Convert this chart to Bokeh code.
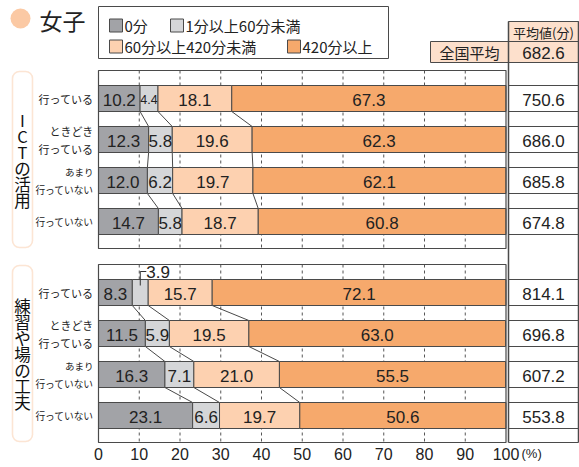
from bokeh.plotting import figure
from bokeh.models import Range1d, BoxAnnotation
from bokeh.core.properties import value
from bokeh.embed import file_html
from bokeh.resources import INLINE

# ---------------- data ----------------
title = "女子"
rows = ["行っている", "ときどき\n行っている", "あまり\n行っていない", "行っていない"]
groups = ["ICTの活用", "練習や場の工夫"]
series = ["0分", "1分以上60分未満", "60分以上420分未満", "420分以上"]

ict_0 = [10.2, 12.3, 12.0, 14.7]
ict_1_60 = [4.4, 5.8, 6.2, 5.8]
ict_60_420 = [18.1, 19.6, 19.7, 18.7]
ict_420 = [67.3, 62.3, 62.1, 60.8]
ict_avg = [750.6, 686.0, 685.8, 674.8]

prac_0 = [8.3, 11.5, 16.3, 23.1]
prac_1_60 = [3.9, 5.9, 7.1, 6.6]
prac_60_420 = [15.7, 19.5, 21.0, 19.7]
prac_420 = [72.1, 63.0, 55.5, 50.6]
prac_avg = [814.1, 696.8, 607.2, 553.8]

avg_header = "平均値(分)"
national_label = "全国平均"
national_avg = 682.6
ticks = [0, 10, 20, 30, 40, 50, 60, 70, 80, 90, 100]
unit_label = "(%)"

colors = ["#a2a3a7", "#d5d6d8", "#fdd1b0", "#f6a96c"]
EDGE = "#4a4a4a"
ORANGE_BORDER = "#f4a870"
PEACH = "#fde0cc"

JP = value("Noto Sans CJK JP")
NUM = value("Liberation Sans")

# ---------------- geometry ----------------
W, H = 579, 467
X0, S = 98.0, 4.075  # pixel of 0 %, pixels per %


def X(px):
    return (px - X0) / S


p = figure(width=W, height=H, output_backend="svg", toolbar_location=None,
           x_range=Range1d(X(0), X(W)), y_range=Range1d(H, 0),
           min_border=0, x_axis_type=None, y_axis_type=None)
p.outline_line_color = None
p.xgrid.visible = False
p.ygrid.visible = False
p.background_fill_color = "white"

panel_tops = [70, 264]
PANEL_H = 178
PITCH = 41
FIRST = 28
BAR_H = 26

data = [
    ([ict_0, ict_1_60, ict_60_420, ict_420], ict_avg),
    ([prac_0, prac_1_60, prac_60_420, prac_420], prac_avg),
]

# ---------------- title ----------------
p.scatter(x=[X(20)], y=[18], size=20, marker="circle", fill_color="#fbc9a4", line_color=None)
p.text(x=[X(39)], y=[19], text=[title], text_font=JP, text_font_size=value("23px"),
       text_align="left", text_baseline="middle", text_color="#222222")

# ---------------- legend ----------------
p.quad(left=[X(98)], right=[X(388)], top=[6], bottom=[58], fill_color="white",
       line_color=EDGE, line_width=1)
leg_pos = [(109, 25), (170, 25), (109, 46), (287, 46)]
for (lx, ly), name, c in zip(leg_pos, series, colors):
    p.quad(left=[X(lx)], right=[X(lx + 13)], top=[ly - 6.5], bottom=[ly + 6.5],
           fill_color=c, line_color=EDGE, line_width=1)
    p.text(x=[X(lx + 15)], y=[ly], text=[name], text_font=JP, text_font_size=value("15px"),
           text_align="left", text_baseline="middle", text_color="#222222")

# ---------------- average table header ----------------
p.quad(left=[X(508)], right=[X(578)], top=[21], bottom=[41], fill_color=PEACH,
       line_color=EDGE, line_width=1)
p.text(x=[X(543)], y=[31.5], text=[avg_header], text_font=JP, text_font_size=value("13px"),
       text_align="center", text_baseline="middle", text_color="#222222")
p.quad(left=[X(430), X(508)], right=[X(508), X(578)], top=[41, 41], bottom=[62, 62],
       fill_color=PEACH, line_color=EDGE, line_width=1)
p.text(x=[X(469)], y=[52], text=[national_label], text_font=JP, text_font_size=value("15px"),
       text_align="center", text_baseline="middle", text_color="#222222")
p.text(x=[X(543)], y=[52], text=[f"{national_avg:.1f}"], text_font=NUM,
       text_font_size=value("17px"), text_align="center", text_baseline="middle",
       text_color="#222222")
p.segment(x0=[X(508), X(578)], y0=[21, 21], x1=[X(508), X(578)], y1=[442, 442],
          line_color=EDGE, line_width=1.5)
p.segment(x0=[X(508)], y0=[442], x1=[X(578)], y1=[442], line_color=EDGE, line_width=1)

# ---------------- panels ----------------
for g, (top, (segs, avgs)) in enumerate(zip(panel_tops, data)):
    bottom = top + PANEL_H
    centers = [top + FIRST + PITCH * i for i in range(len(rows))]

    # group box with vertical title
    p.add_layout(BoxAnnotation(left=X(12), right=X(32), top=top + 1, bottom=bottom - 1,
                               fill_color="white", fill_alpha=1, line_color=ORANGE_BORDER,
                               line_width=1.6, border_radius=7, level="underlay"))
    chars = list(groups[g])
    cpitch = 16
    mid = (top + bottom) / 2
    ys = [mid + (k - (len(chars) - 1) / 2) * cpitch for k in range(len(chars))]
    p.text(x=[X(22)] * len(chars), y=ys, text=chars, text_font=JP,
           text_font_size=value("16.5px"), text_align="center", text_baseline="middle",
           text_color="#111111")

    # panel background and dashed grid
    p.quad(left=[0], right=[100], top=[top], bottom=[bottom], fill_color="white",
           line_color=None)
    inner = ticks[1:-1]
    p.segment(x0=inner, y0=[top] * len(inner), x1=inner, y1=[bottom] * len(inner),
              line_color="#555555", line_width=1, line_dash="3 3")

    # cumulative values
    cums = []
    for i in range(len(rows)):
        c = [0.0]
        for k in range(len(segs)):
            c.append(c[-1] + segs[k][i])
        cums.append(c)

    # connectors
    for i in range(len(rows) - 1):
        for k in range(1, len(segs)):
            p.segment(x0=[cums[i][k]], y0=[centers[i] + BAR_H / 2],
                      x1=[cums[i + 1][k]], y1=[centers[i + 1] - BAR_H / 2],
                      line_color="#333333", line_width=0.9)

    # bars
    for k in range(len(segs)):
        lefts = [cums[i][k] for i in range(len(rows))]
        rights = [cums[i][k + 1] for i in range(len(rows))]
        p.hbar(y=centers, left=lefts, right=rights, height=BAR_H, fill_color=colors[k],
               line_color=EDGE, line_width=1)
        for i in range(len(rows)):
            v = segs[k][i]
            xc = (lefts[i] + rights[i]) / 2
            if v < 4:
                # small value: label above with bracket
                pxc = X0 + xc * S
                yb = centers[i] - BAR_H / 2 + 6
                yl = centers[i] - BAR_H / 2 - 8
                p.segment(x0=[xc, xc], y0=[yb, yl], x1=[xc, X(pxc + 6)], y1=[yl, yl],
                          line_color="#333333", line_width=1)
                p.text(x=[X(pxc + 6)], y=[yl], text=[f"{v:.1f}"], text_font=NUM,
                       text_font_size=value("17px"), text_align="left",
                       text_baseline="middle", text_color="#222222")
            else:
                fs = "17px" if v >= 5 else "12.5px"
                p.text(x=[xc], y=[centers[i] + 1], text=[f"{v:.1f}"], text_font=NUM,
                       text_font_size=value(fs), text_align="center",
                       text_baseline="middle", text_color="#222222")

    # panel border
    p.quad(left=[0], right=[100], top=[top], bottom=[bottom], fill_color=None,
           line_color=EDGE, line_width=1.2)

    # row labels
    for i, lab in enumerate(rows):
        lines = lab.split("\n")
        if len(lines) == 1:
            offs = [0]
        else:
            offs = [-9, 9]
        for line, o in zip(lines, offs):
            fs = min(11.0, 58.0 / len(line))
            if len(lines) == 2 and o < 0 and len(line) <= 3:
                fs = 9.5
            p.text(x=[X(93)], y=[centers[i] + o], text=[line], text_font=JP,
                   text_font_size=value(f"{fs:.1f}px"), text_align="right",
                   text_baseline="middle", text_color="#222222")

    # average value cells
    tops_b = [c - BAR_H / 2 for c in centers]
    bots_b = [c + BAR_H / 2 for c in centers]
    ys_lines = tops_b + bots_b
    p.segment(x0=[X(508)] * len(ys_lines), y0=ys_lines, x1=[X(578)] * len(ys_lines),
              y1=ys_lines, line_color=EDGE, line_width=1)
    p.text(x=[X(543)] * len(avgs), y=[c + 1 for c in centers],
           text=[f"{a:.1f}" for a in avgs], text_font=NUM, text_font_size=value("17px"),
           text_align="center", text_baseline="middle", text_color="#222222")

# ---------------- x axis labels ----------------
p.text(x=ticks, y=[453] * len(ticks), text=[str(t) for t in ticks], text_font=NUM,
       text_font_size=value("16px"), text_align="center", text_baseline="middle",
       text_color="#222222")
p.text(x=[X(521)], y=[453], text=[unit_label], text_font=NUM, text_font_size=value("13px"),
       text_align="left", text_baseline="middle", text_color="#222222")

open("out.html", "w").write(file_html(p, INLINE))
